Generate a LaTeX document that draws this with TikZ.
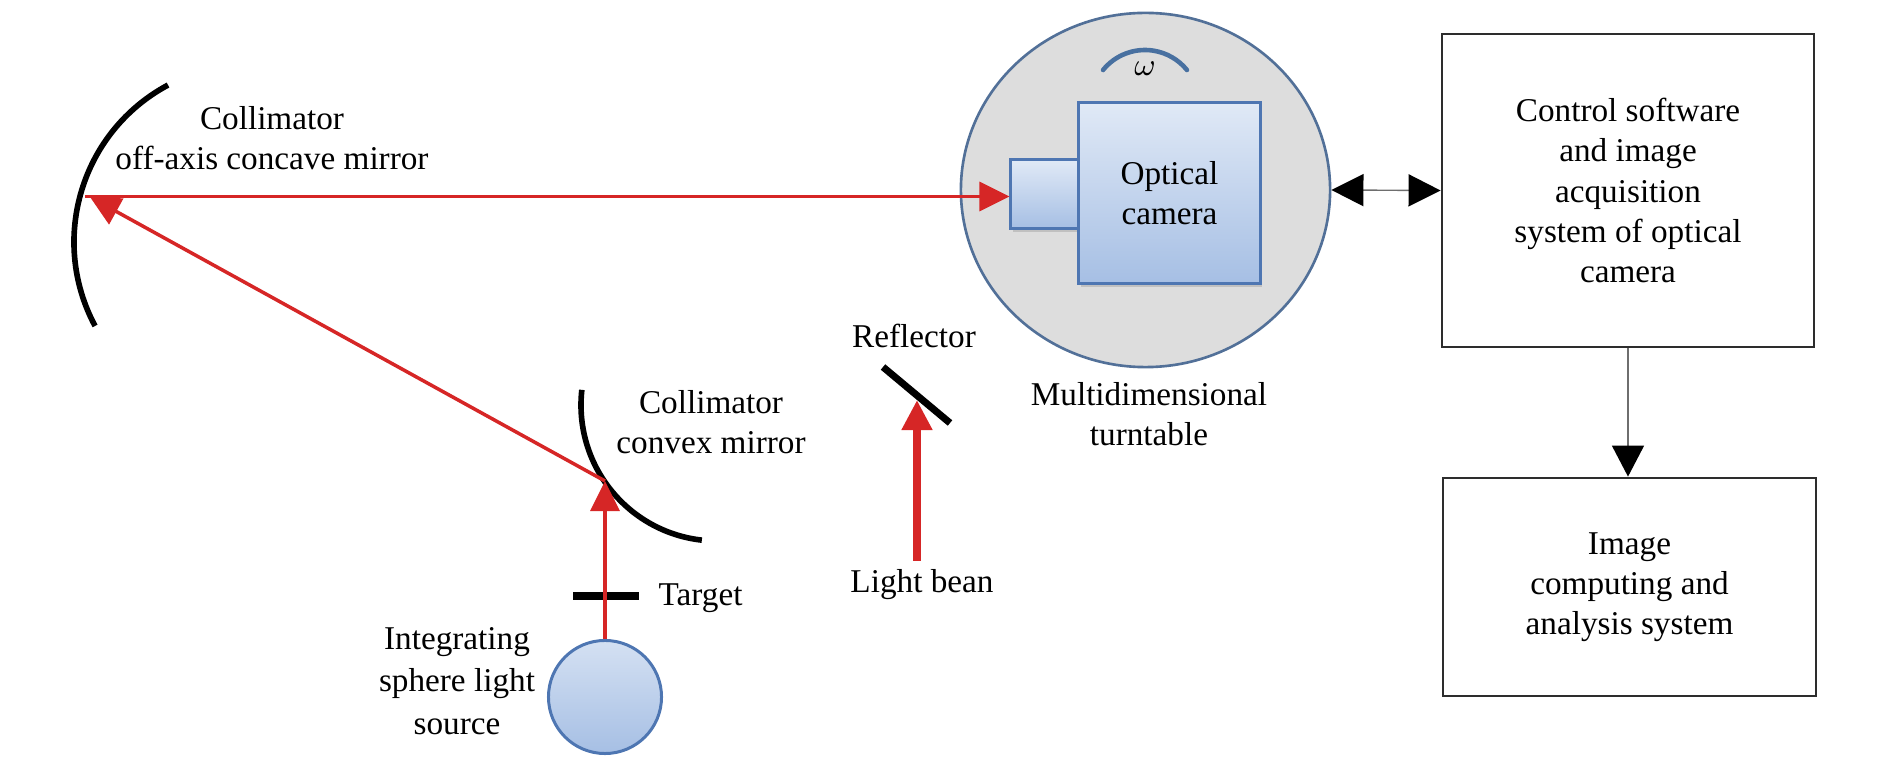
\documentclass[tikz,border=0pt]{standalone}
\usepackage{fontspec}
\setmainfont{Liberation Serif}
\usetikzlibrary{arrows.meta,shapes.geometric,shadows}
\definecolor{beam}{RGB}{214,38,38}
\definecolor{rim}{RGB}{82,112,152}
\definecolor{plate}{RGB}{221,221,221}
\definecolor{camtop}{RGB}{224,233,246}
\definecolor{cambot}{RGB}{166,191,228}
\definecolor{camrim}{RGB}{78,118,178}
\definecolor{spin}{RGB}{72,112,160}
\definecolor{boxrim}{RGB}{45,45,45}
\definecolor{wire}{RGB}{110,110,110}
\begin{document}
\begin{tikzpicture}[x=0.01cm,y=-0.01cm,
   txt/.style={font=\fontsize{9.45}{11.4}\selectfont,align=center,inner sep=0pt},
   mirror/.style={line width=1.6pt},
   ray/.style={draw=beam,line width=1pt,-{Triangle[length=0.3cm,width=0.29cm]}},
   block/.style={rectangle,draw=boxrim,line width=0.75pt,txt},
   cam/.style={draw=camrim,line width=0.85pt,top color=camtop,bottom color=cambot,inner sep=0pt,
      drop shadow={shadow xshift=0.02cm,shadow yshift=-0.04cm,opacity=0.3}}]
   \useasboundingbox (0,0) rectangle (1890,764);
   % turntable with camera
   \node (turntable) at (1145.5,190) [ellipse,draw=rim,line width=0.75pt,fill=plate,minimum width=3.69cm,minimum height=3.54cm,inner sep=0pt] {};
   \node (lens) at (1045,194) [cam,minimum width=0.68cm,minimum height=0.68cm] {};
   \node (camera) at (1169.5,193) [cam,txt,minimum width=1.81cm,minimum height=1.80cm] {Optical\\camera};
   \draw[spin,line width=1.3pt,line cap=round] (1145,104) ++(219:54) arc[start angle=219,end angle=321,radius=54];
   \node (omega) at (1145,69) [txt] {$\omega$};
   % mirrors and target
   \draw[mirror] (252,242) ++(151.85:178) arc[start angle=151.85,end angle=241.85,radius=178];
   \draw[mirror] (717,405) ++(96.4:136) arc[start angle=96.4,end angle=186.4,radius=136];
   \draw[line width=2pt] (883,367) -- (950,423);
   \draw[line width=2pt] (573,596) -- (639,596);
   \node (sphere) at (605,697) [circle,draw=camrim,line width=0.85pt,top color=camtop!80!cambot,bottom color=cambot,minimum size=1.13cm,inner sep=0pt] {};
   % beams
   \coordinate (convex) at (605,481);
   \coordinate (concave) at (90,197);
   \coordinate (back) at (85,196.5);
   \coordinate (beanfoot) at (917,561);
   \coordinate (beantop) at (917,400);
   \draw[ray] (sphere.north) -- (convex);
   \draw[ray] (convex) -- (concave);
   \draw[ray] (back) -- (back -| lens.west);
   \draw[ray,line width=2.4pt] (beanfoot) -- (beantop);
   % labels
   \node (lbconcave) at (272,138.5) [txt] {Collimator\\off-axis concave mirror};
   \node (lbconvex) at (711,422) [txt] {Collimator\\convex mirror};
   \node (lbtarget) at (658,606) [txt,anchor=base west] {Target};
   \node (lbsphere) at (457,681) [txt,font=\fontsize{9.45}{12}\selectfont] {Integrating\\sphere light\\source};
   \node (lbreflector) at (914,348) [txt,anchor=base] {Reflector};
   \node (lbbean) at (922,593) [txt,anchor=base] {Light bean};
   \node (lbturn) at (1149,414) [txt] {Multidimensional\\turntable};
   % software blocks
   \node (control) at (1628,190.5) [block,minimum width=3.72cm,minimum height=3.13cm] {Control software\\and image\\acquisition\\system of optical\\camera};
   \node (analysis) at (1629.5,587) [block,minimum width=3.73cm,minimum height=2.18cm] {Image\\computing and\\analysis system};
   \draw[wire,line width=0.4pt,{Triangle[length=0.32cm,width=0.32cm,color=black]}-{Triangle[length=0.32cm,width=0.32cm,color=black]}] (turntable.east) -- (control.west);
   \draw[wire,line width=0.4pt,-{Triangle[length=0.31cm,width=0.32cm,color=black]}] (control.south) -- (control.south |- analysis.north);
\end{tikzpicture}
\end{document}
